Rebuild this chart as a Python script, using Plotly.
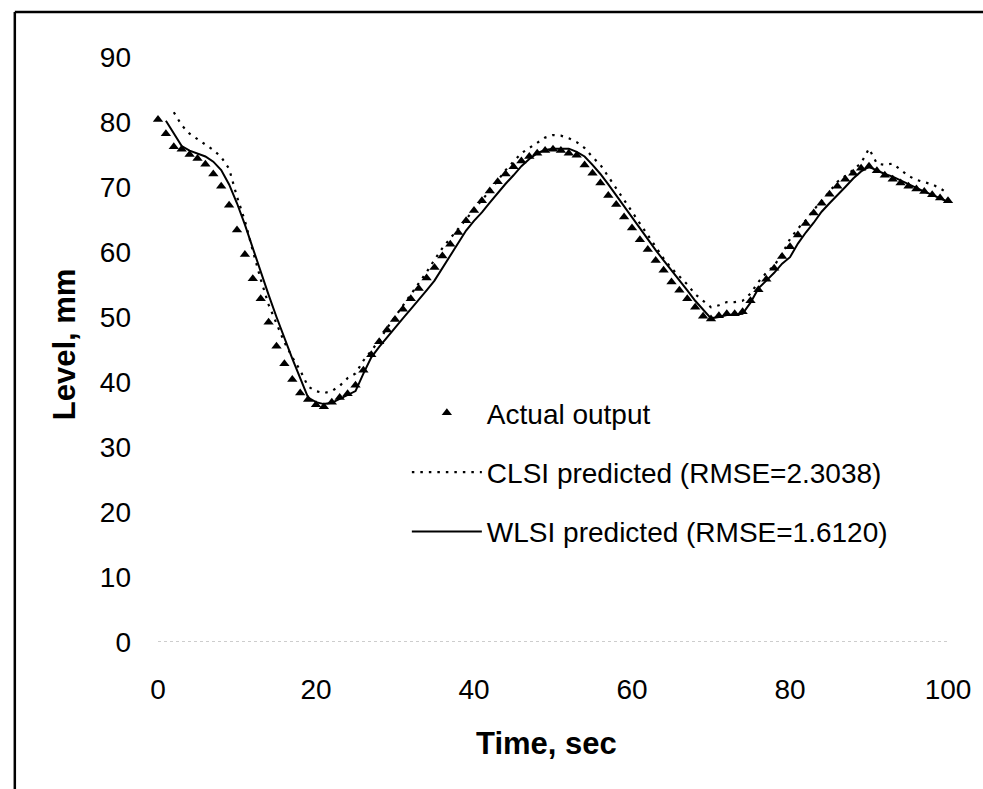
import plotly.graph_objects as go

# ---- data ----
t_actual = list(range(0, 101))
actual = [80.4, 78.2, 76.2, 75.8, 75.0, 74.4, 73.5, 72.0, 70.1, 67.2,
          63.4, 59.6, 55.9, 52.8, 49.2, 45.5, 42.8, 40.4, 38.3, 37.3,
          36.5, 36.2, 36.9, 37.6, 38.2, 39.5, 41.8, 44.2, 46.2, 48.0,
          49.6, 51.2, 52.8, 54.4, 56.0, 57.6, 59.4, 61.2, 63.0, 64.8,
          66.4, 67.9, 69.4, 70.8, 72.0, 73.1, 74.0, 74.7, 75.2, 75.6,
          75.8, 75.6, 75.2, 74.9, 73.4, 72.1, 70.6, 68.7, 67.3, 65.4,
          63.7, 61.9, 60.4, 58.7, 57.2, 55.4, 54.1, 52.8, 51.5, 50.1,
          49.7, 50.2, 50.5, 50.5, 50.8, 52.5, 54.2, 55.8, 57.5, 59.3,
          60.8, 62.6, 64.4, 66.0, 67.5, 68.9, 70.1, 71.2, 72.1, 72.9,
          73.2, 72.5, 71.8, 71.2, 70.6, 70.1, 69.7, 69.3, 68.8, 68.3,
          67.9]

t_wlsi = list(range(1, 101))
wlsi = [80.2, 78.2, 76.3, 75.6, 75.2, 74.7, 73.9, 72.6, 70.4, 67.5,
        64.2, 60.6, 56.8, 53.4, 50.0, 46.7, 43.6, 40.6, 37.6, 36.9,
        36.6, 36.8, 37.4, 38.0, 38.6, 41.3, 43.8, 45.4, 46.9, 48.3,
        49.8, 51.2, 52.6, 54.1, 55.6, 57.5, 59.4, 61.4, 63.3, 64.8,
        66.1, 67.6, 69.1, 70.5, 71.8, 73.2, 74.3, 75.2, 75.7, 75.9,
        75.9, 75.9, 75.4, 74.7, 73.4, 72.0, 70.4, 68.7, 67.0, 65.4,
        63.7, 62.0, 60.3, 58.7, 57.2, 55.7, 54.1, 52.5, 51.1, 49.8,
        50.0, 50.3, 50.4, 50.5, 52.2, 54.4, 55.6, 56.8, 58.2, 59.2,
        61.3, 63.0, 64.5, 66.2, 67.5, 68.7, 70.0, 71.3, 72.4, 73.1,
        72.5, 72.0, 71.6, 71.0, 70.4, 69.8, 69.3, 68.8, 68.2, 67.7]

t_clsi = list(range(2, 101))
clsi = [81.5, 79.5, 78.2, 77.4, 76.6, 75.7, 74.6, 72.8, 68.5,
        64.8, 60.2, 55.8, 51.9, 49.1, 46.1, 43.8, 41.8, 39.3, 38.6,
        38.3, 38.6, 39.4, 40.6, 41.3, 43.3, 44.8, 46.4, 48.3, 50.0,
        51.8, 53.5, 55.2, 56.9, 58.8, 60.6, 62.1, 63.6, 65.1, 66.6,
        68.0, 69.4, 71.0, 72.6, 73.9, 75.2, 76.0, 76.8, 77.6, 78.0,
        77.9, 77.5, 76.9, 76.0, 74.6, 73.4, 71.6, 70.0, 68.2, 66.4,
        64.6, 62.8, 61.0, 59.0, 57.5, 56.2, 55.0, 53.5, 52.5, 51.5,
        51.8, 52.3, 52.3, 52.5, 53.6, 55.4, 56.8, 57.9, 59.7, 62.0,
        63.6, 64.9, 66.5, 67.8, 69.3, 70.8, 71.7, 72.6, 73.7, 75.9,
        73.6, 73.4, 73.6, 72.6, 71.7, 71.1, 70.7, 70.4, 69.8, 69.0]

x_ticks = [0, 20, 40, 60, 80, 100]
y_ticks = [0, 10, 20, 30, 40, 50, 60, 70, 80, 90]

names = ["Actual output", "CLSI predicted (RMSE=2.3038)", "WLSI predicted (RMSE=1.6120)"]

FONT = "Liberation Sans, Arial, Helvetica, sans-serif"

fig = go.Figure()
fig.add_trace(go.Scatter(
    x=t_actual, y=actual, mode="markers", name=names[0], legendgroup="a",
    marker=dict(symbol="triangle-up", size=9, color="black"), cliponaxis=False))
fig.add_trace(go.Scatter(
    x=t_clsi, y=clsi, mode="lines", name=names[1], legendgroup="c",
    line=dict(color="black", width=2.2, dash="2.5px,6px"), cliponaxis=False))
fig.add_trace(go.Scatter(
    x=t_wlsi, y=wlsi, mode="lines", name=names[2], legendgroup="w",
    line=dict(color="black", width=2), cliponaxis=False))

# Page body margin is removed (see post_script), so the figure fills the window.
W, H = 983, 789
L, T = 158, 57
R = W - 958
B = H - 642
pw, ph = W - L - R, H - T - B

def px_to_paper_x(px):
    return (px - L) / pw

def px_to_paper_y(py):
    return (H - B - py) / ph

fx0, fy_top = px_to_paper_x(13), px_to_paper_y(12)
fx1, fy_bot = px_to_paper_x(W + 40), px_to_paper_y(H + 40)

fig.update_layout(
    width=W, height=H,
    margin=dict(l=L, r=R, t=T, b=B, pad=0),
    paper_bgcolor="white", plot_bgcolor="white",
    font=dict(family=FONT, size=28, color="black"),
    showlegend=True,
    legend=dict(
        x=px_to_paper_x(410), y=px_to_paper_y(388), xanchor="left", yanchor="top",
        font=dict(family=FONT, size=28, color="black"),
        itemwidth=70, tracegroupgap=20, bgcolor="rgba(0,0,0,0)",
        traceorder="grouped",
    ),
    xaxis=dict(
        range=[0, 100], tickvals=x_ticks, ticktext=[str(v) for v in x_ticks],
        showgrid=False, zeroline=False, showline=False, ticks="",
        ticklabelstandoff=28, tickfont=dict(size=28),
    ),
    yaxis=dict(
        range=[0, 90], tickvals=y_ticks, ticktext=[str(v) for v in y_ticks],
        showgrid=False, zeroline=False, showline=False, ticks="",
        ticklabelstandoff=26, tickfont=dict(size=28),
    ),
    annotations=[
        dict(text="<b>Time, sec</b>", xref="paper", yref="paper",
             x=px_to_paper_x(551), y=px_to_paper_y(743), xanchor="center", yanchor="middle",
             showarrow=False, font=dict(size=31)),
        dict(text="<b>Level, mm</b>", xref="paper", yref="paper", textangle=-90,
             x=px_to_paper_x(63), y=px_to_paper_y(344), xanchor="center", yanchor="middle",
             showarrow=False, font=dict(size=31)),
    ],
    shapes=[
        # outer frame: only the left and top edges fall inside the picture
        dict(type="line", xref="paper", yref="paper",
             x0=fx0, x1=fx0, y0=fy_bot, y1=fy_top,
             line=dict(color="black", width=2.5), layer="below"),
        dict(type="line", xref="paper", yref="paper",
             x0=fx0, x1=fx1, y0=fy_top, y1=fy_top,
             line=dict(color="black", width=2.5), layer="below"),
        # faint x axis line
        dict(type="line", xref="x", yref="y", x0=0, x1=100, y0=0, y1=0,
             line=dict(color="#9a9a9a", width=1, dash="dot"), layer="below"),
    ],
)

fig.write_html(
    "out.html",
    config={"displayModeBar": False},
    post_script="document.body.style.margin='0';document.body.style.overflow='hidden';",
)
